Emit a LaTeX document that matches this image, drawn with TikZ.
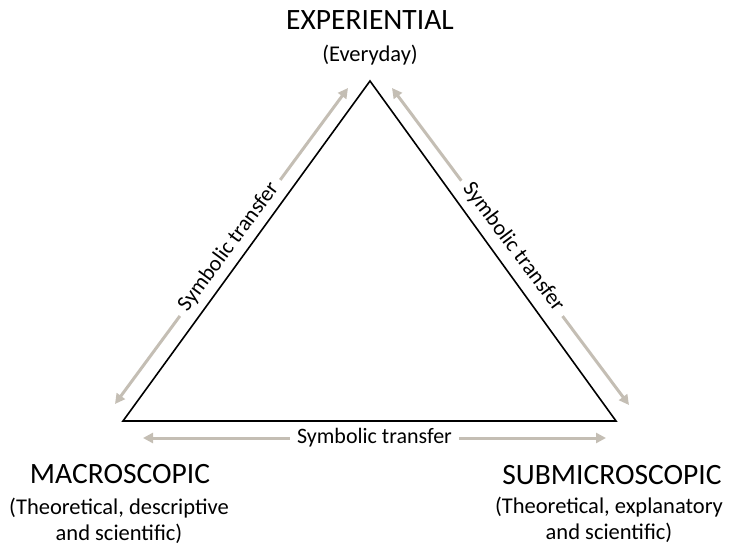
\documentclass[tikz,border=0pt]{standalone}
\usepackage{fontspec}
\setmainfont{Carlito}
\usetikzlibrary{arrows.meta}
\definecolor{transfergray}{RGB}{196,190,180}
\begin{document}
\begin{tikzpicture}[x=1pt,y=-1pt,
  edge/.style={draw=black,line width=1.6pt,line join=miter},
  transfer/.style={draw=transfergray,line width=3pt,
    {Triangle[length=10pt,width=10pt]}-{Triangle[length=10pt,width=10pt]}},
  translabel/.style={fill=white,inner sep=7pt,font=\fontsize{22}{24}\selectfont,text=black},
  heading/.style={font=\fontsize{29.5}{32}\selectfont,anchor=base},
  sublabel/.style={font=\fontsize{22.5}{26}\selectfont,align=center,anchor=base}
]
\useasboundingbox (0,0) rectangle (734,545);

% corners of the triangle
\coordinate (top) at (370,81);
\coordinate (left) at (123,421);
\coordinate (right) at (616,421);

% arrow end points beside each edge
\coordinate (la1) at (348,88);
\coordinate (la2) at (115,404);
\coordinate (ra1) at (392,88);
\coordinate (ra2) at (629,405);
\coordinate (ba1) at (143,438);
\coordinate (ba2) at (606,438);

% symbolic transfer arrows; the slanted labels sit a little outside the edges
\draw[transfer] (la1) -- node[translabel,sloped,shift={(-2.4,-1.8)}] {Symbolic transfer} (la2);
\draw[transfer] (ra1) -- node[translabel,sloped,shift={(2.4,-1.8)}] {Symbolic transfer} (ra2);
\draw[transfer] (ba1) -- node[translabel] {Symbolic transfer} (ba2);

% the triangle
\draw[edge] (top) -- (right) -- (left) -- cycle;

% corner labels
\node[heading] (exp) at (370,30) {EXPERIENTIAL};
\node[sublabel] (expsub) at (370,62) {(Everyday)};

\node[heading] (mac) at (120,483) {MACROSCOPIC};
\node[sublabel] (macsub) at (119,540) {(Theoretical, descriptive\\and scientific)};

\node[heading] (sub) at (612,484) {SUBMICROSCOPIC};
\node[sublabel] (subsub) at (609,539) {(Theoretical, explanatory\\and scientific)};
\end{tikzpicture}
\end{document}
